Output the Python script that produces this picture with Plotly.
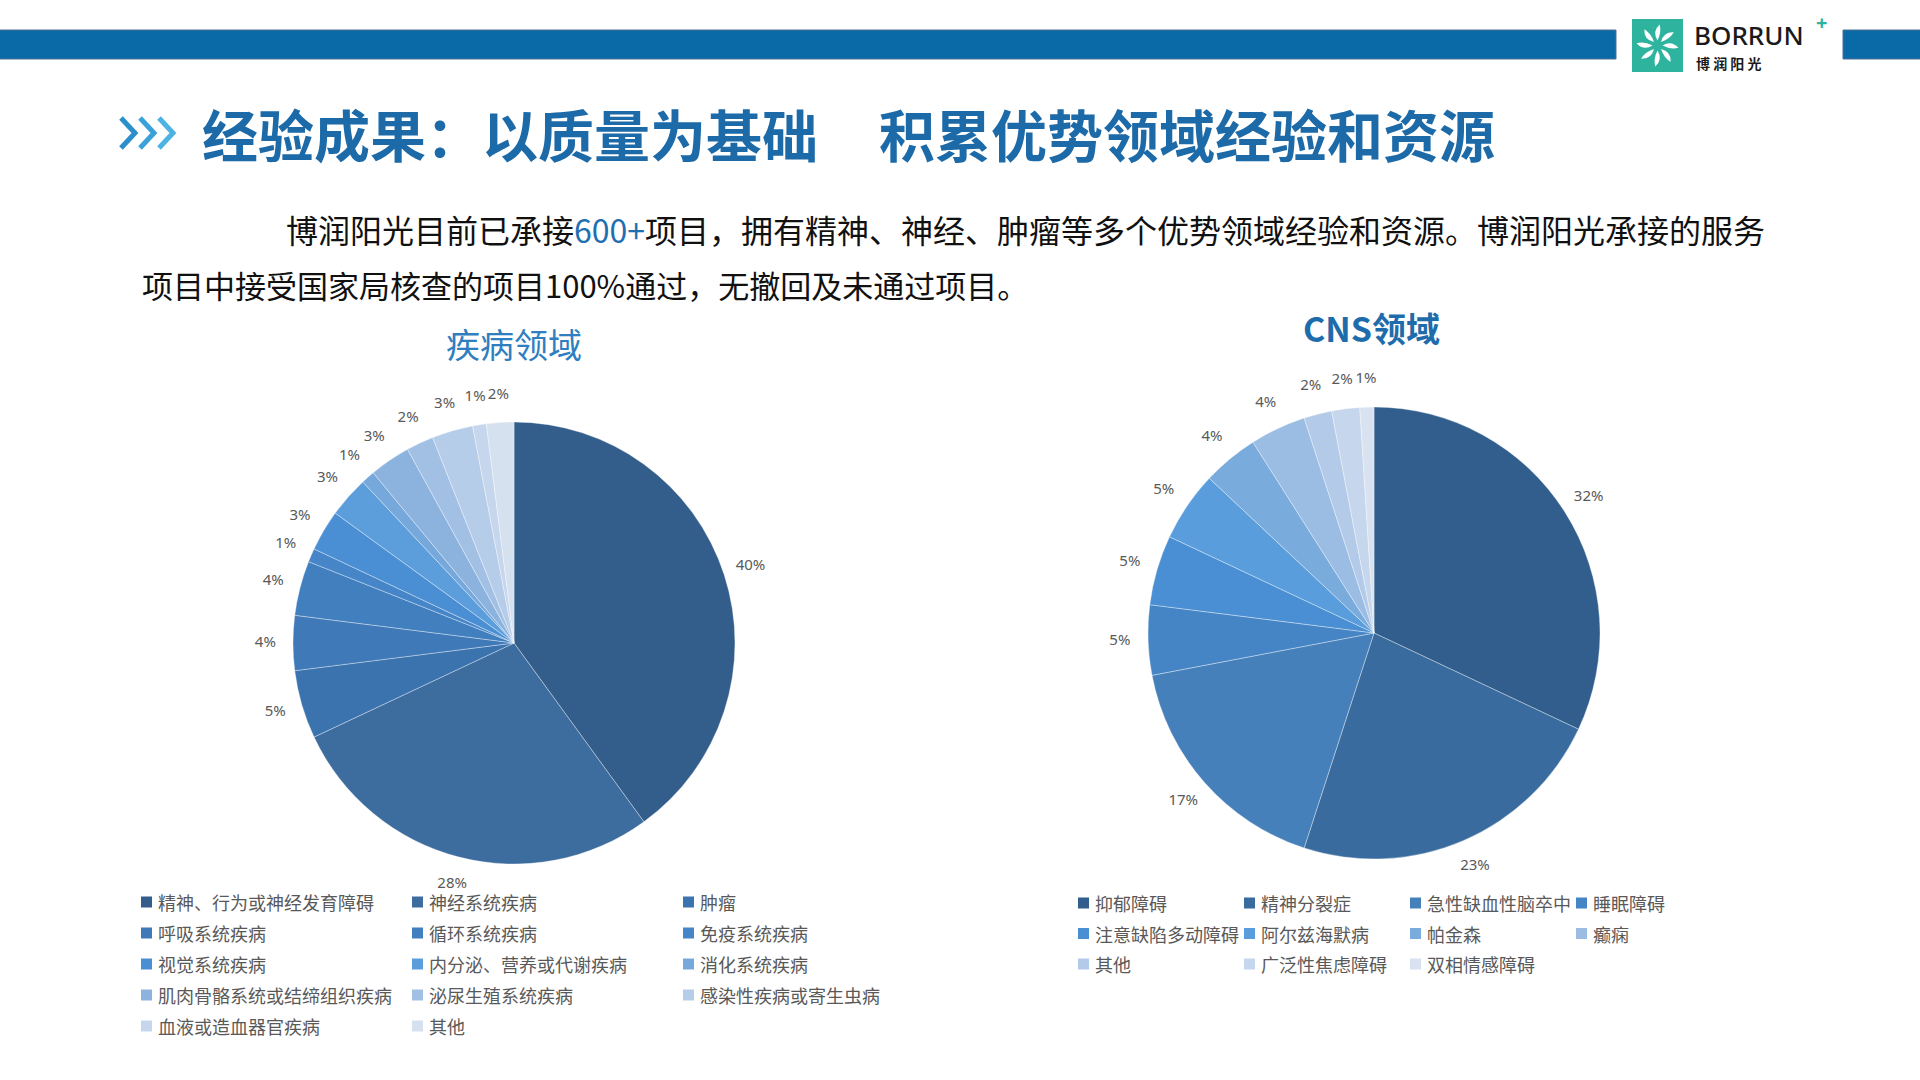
import math
import plotly.graph_objects as go

W, H = 1920, 1080

# ---------------- data ----------------
disease_labels = ["精神、行为或神经发育障碍", "神经系统疾病", "肿瘤",
                  "呼吸系统疾病", "循环系统疾病", "免疫系统疾病",
                  "视觉系统疾病", "内分泌、营养或代谢疾病", "消化系统疾病",
                  "肌肉骨骼系统或结缔组织疾病", "泌尿生殖系统疾病", "感染性疾病或寄生虫病",
                  "血液或造血器官疾病", "其他"]
disease_values = [40, 28, 5, 4, 4, 1, 3, 3, 1, 3, 2, 3, 1, 2]
disease_colors = ["#335D8A", "#3D6C9E", "#3B73AF", "#3F79B7", "#417FBF", "#4585C8",
                  "#4A8ED4", "#5C9DDC", "#76A8DB", "#8BB3DE", "#A2C0E4", "#B6CDE9",
                  "#C6D6EC", "#D6E1F0"]

cns_labels = ["抑郁障碍", "精神分裂症", "急性缺血性脑卒中", "睡眠障碍",
              "注意缺陷多动障碍", "阿尔兹海默病", "帕金森", "癫痫",
              "其他", "广泛性焦虑障碍", "双相情感障碍"]
cns_values = [32, 23, 17, 5, 5, 5, 4, 4, 2, 2, 1]
cns_colors = ["#315E8C", "#396B9F", "#4680BA", "#4585C6", "#4A8FD3", "#599DDD",
              "#7AABDD", "#9BBDE3", "#B3CBE8", "#C6D6EC", "#D8E2F0"]

title_part1 = "经验成果：以质量为基础"
title_part2 = "积累优势领域经验和资源"
para_line1 = ("博润阳光目前已承接", "600+", "项目，拥有精神、神经、肿瘤等多个优势领域经验和资源。博润阳光承接的服务")
para_line2 = "项目中接受国家局核查的项目100%通过，无撤回及未通过项目。"
chart1_title = "疾病领域"
chart2_title = "CNS领域"


# ---------------- helpers (pixel -> paper) ----------------
def px(x):
    return x / W


def py(y):
    return 1 - y / H


def domain(cx, cy, r):
    return dict(x=[px(cx - r), px(cx + r)], y=[py(cy + r), py(cy - r)])


CJK = "Noto Sans CJK SC"
GRAY = "#595959"
LABEL_R = 1.125      # data-label distance, in pie radii
POLAR_SCALE = 1.3    # label layer extends beyond the pie


def mid_angles(values):
    total = float(sum(values))
    out, acc = [], 0.0
    for v in values:
        out.append((acc + v / 2.0) / total * 360.0)
        acc += v
    return out


def pct_text(values):
    total = float(sum(values))
    return ["{:.0f}%".format(v / total * 100) for v in values]


fig = go.Figure()

pies = [
    (disease_labels, disease_values, disease_colors, (514, 643, 221), "polar", chart1_title),
    (cns_labels, cns_values, cns_colors, (1374, 633, 226), "polar2", chart2_title),
]

layout_polars = {}
for labels, values, colors, (cx, cy, r), pname, nm in pies:
    fig.add_trace(go.Pie(
        labels=labels, values=values, sort=False,
        direction="clockwise", rotation=0,
        marker=dict(colors=colors, line=dict(color="rgba(255,255,255,0.35)", width=1)),
        textinfo="none", hovertemplate="%{label}: %{percent}<extra></extra>",
        domain=domain(cx, cy, r), showlegend=False, name=nm,
    ))
    # data labels placed on the slice mid-angles through a polar axis
    fig.add_trace(go.Scatterpolar(
        r=[LABEL_R] * len(values), theta=mid_angles(values),
        text=pct_text(values), mode="text", subplot=pname,
        textfont=dict(family="Noto Sans", size=15, color=GRAY),
        hoverinfo="skip", showlegend=False, cliponaxis=False,
    ))
    layout_polars[pname] = dict(
        domain=domain(cx, cy, r * POLAR_SCALE),
        bgcolor="rgba(0,0,0,0)",
        radialaxis=dict(range=[0, POLAR_SCALE], visible=False, showgrid=False),
        angularaxis=dict(rotation=90, direction="clockwise", visible=False,
                         showgrid=False, showline=False, ticks=""),
    )

shapes = []
annotations = []


def rect(x0, y0, x1, y1, color, line=None):
    shapes.append(dict(type="rect", xref="paper", yref="paper",
                       x0=px(x0), x1=px(x1), y0=py(y1), y1=py(y0),
                       fillcolor=color, line=line or dict(width=0), layer="above"))


def text(x, y, s, size, color, xanchor="left", family=CJK, weight="normal"):
    annotations.append(dict(xref="paper", yref="paper", x=px(x), y=py(y), text=s,
                            showarrow=False, xanchor=xanchor, yanchor="middle",
                            borderpad=0,
                            font=dict(family=family, size=size, color=color, weight=weight)))


# ---------------- header bars ----------------
edge = dict(color="#4F7393", width=1)
rect(-2, 30, 1616, 59, "#0A69A7", edge)
rect(1843, 30, 1922, 59, "#0A69A7", edge)

# logo
rect(1632, 19, 1683, 72, "#2DB39E")
lcx, lcy = 1657.5, 45.5
for k in range(8):
    a = math.radians(k * 45)

    def pt(rr, da):
        return (px(lcx + rr * math.cos(a + math.radians(da))),
                py(lcy - rr * math.sin(a + math.radians(da))))
    p1 = pt(5, 0)
    c1 = pt(14, -18)
    p2 = pt(21, -6)
    c2 = pt(15, 22)
    path = "M {:.5f},{:.5f} Q {:.5f},{:.5f} {:.5f},{:.5f} Q {:.5f},{:.5f} {:.5f},{:.5f} Z".format(
        p1[0], p1[1], c1[0], c1[1], p2[0], p2[1], c2[0], c2[1], p1[0], p1[1])
    shapes.append(dict(type="path", xref="paper", yref="paper", path=path,
                       fillcolor="white", line=dict(width=0), layer="above"))
text(1693, 35, "BORRUN", 26, "#1A1A1A", family="Noto Sans", weight=500)
text(1815, 23, "+", 20, "#2DB39E", family="Noto Sans", weight="bold")
text(1695, 63, "博 润 阳 光", 14, "#1A1A1A", weight="bold")

# ---------------- title ----------------
chev_colors = ["#2C8FCC", "#3AA2D8", "#4DB3E2"]
for i, c in enumerate(chev_colors):
    x0 = 121 + i * 19
    path = "M {:.5f},{:.5f} L {:.5f},{:.5f} L {:.5f},{:.5f}".format(
        px(x0), py(118), px(x0 + 14), py(133), px(x0), py(148))
    shapes.append(dict(type="path", xref="paper", yref="paper", path=path,
                       line=dict(color=c, width=5), layer="above"))
TITLE_BLUE = "#1D6AA8"
text(201, 132, title_part1, 56, TITLE_BLUE, weight="bold")
text(878, 132, title_part2, 56, TITLE_BLUE, weight="bold")

# ---------------- paragraph ----------------
line1 = "{}<span style='color:#1F6FB2'>{}</span>{}".format(*para_line1)
text(285, 229, line1, 32, "#111111")
text(141, 285, para_line2, 31, "#111111")

# ---------------- chart titles ----------------
text(514, 343, chart1_title, 34, "#2E7EC0", xanchor="center")
text(1371, 327, chart2_title, 34, "#1E6CAB", xanchor="center", weight="bold")


# ---------------- legends ----------------
def legend(labels, colors, x0, y0, dx, dy, ncol):
    for i, (lab, col) in enumerate(zip(labels, colors)):
        rr, c = divmod(i, ncol)
        x = x0 + c * dx
        y = y0 + rr * dy
        rect(x, y - 5.5, x + 11, y + 5.5, col)
        text(x + 16, y, lab, 18, GRAY)


legend(disease_labels, disease_colors, 141, 902, 271, 31, 3)
legend(cns_labels, cns_colors, 1078, 903, 166, 30.5, 4)

fig.update_layout(
    width=W, height=H,
    margin=dict(l=0, r=0, t=0, b=0),
    paper_bgcolor="white", plot_bgcolor="white",
    shapes=shapes, annotations=annotations,
    **layout_polars,
)

fig.write_html("out.html", config={"displayModeBar": False},
               post_script="document.body.style.margin='0px';")
